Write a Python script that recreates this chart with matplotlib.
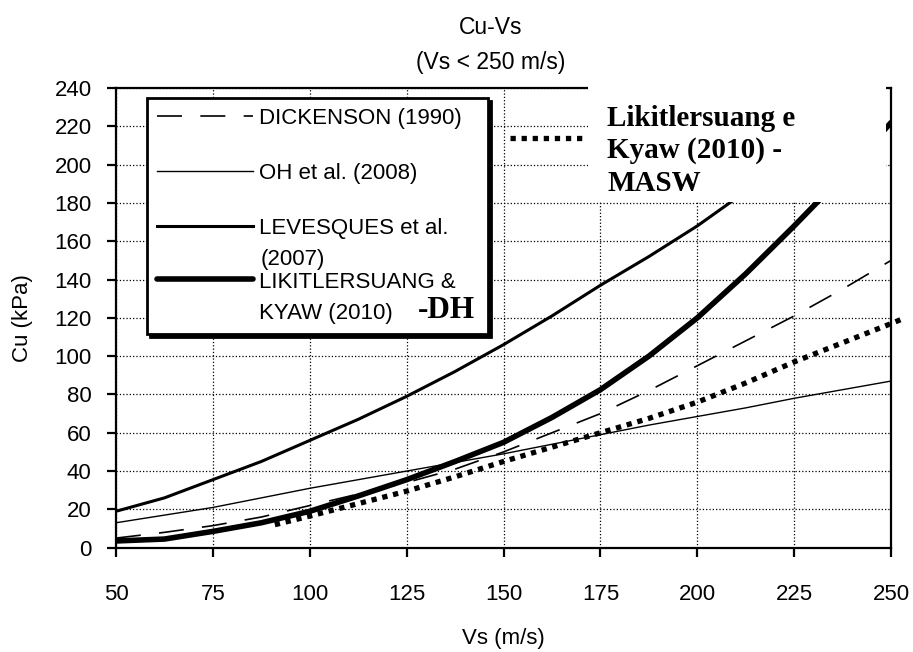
import matplotlib
matplotlib.use('Agg')
import matplotlib.pyplot as plt
from matplotlib.patches import Rectangle

# values
vs = [50, 62.5, 75, 87.5, 100, 112.5, 125, 137.5, 150, 162.5, 175, 187.5, 200, 212.5, 225, 237.5, 250]
dickenson = [5, 8, 11.5, 16, 22, 28, 34, 41, 50, 60, 70, 82, 95, 108, 121, 135, 150]
oh = [13, 17, 21, 26, 31, 35.5, 40, 44.5, 49, 54, 59, 64, 68.5, 73, 78, 82.5, 87]
levesques = [19, 26, 35.5, 45, 56, 67, 79, 92, 106, 121, 137, 152, 168, 186, 205, 224, 245]
likit_dh = [3.5, 4.5, 8.5, 13, 19, 27, 35.5, 45, 55, 68, 82.5, 100, 120, 143, 168, 194, 222]

masw_vs = [91, 100, 112.5, 125, 137.5, 150, 162.5, 175, 187.5, 200, 212.5, 225, 237.5, 250, 253]
masw = [12, 16.5, 23, 29.5, 37, 45, 52.5, 60, 67.5, 76, 86, 97, 107, 117, 119.5]

x_ticks = [50, 75, 100, 125, 150, 175, 200, 225, 250]
y_ticks = list(range(0, 241, 20))

plt.rcParams['font.family'] = ['Liberation Sans', 'DejaVu Sans']

fig = plt.figure(figsize=(9.13, 6.52), dpi=100)
ax = fig.add_axes([0.127, 0.16, 0.849, 0.705])

l1, = ax.plot(vs, dickenson, color='black', lw=1.2, dashes=(15, 11))
l2, = ax.plot(vs, oh, color='black', lw=1.0)
l3, = ax.plot(vs, levesques, color='black', lw=2.2)
l4, = ax.plot(vs, likit_dh, color='black', lw=4.0, solid_capstyle='round')
l5, = ax.plot(masw_vs, masw, color='black', lw=3.8, dashes=(1, 1.1),
              dash_capstyle='butt', clip_on=False, zorder=3)

ax.set_xlim(50, 250)
ax.set_ylim(0, 240)
ax.set_xticks(x_ticks)
ax.set_yticks(y_ticks)
ax.grid(True, color='black', linestyle=':', lw=0.9)
for s in ax.spines.values():
    s.set_linewidth(1.6)
ax.tick_params(labelsize=16, length=6.5, width=1.6, direction='out')
ax.tick_params(axis='x', pad=20)
ax.tick_params(axis='y', pad=11)

ax.set_xlabel('Vs (m/s)', fontsize=16)
ax.xaxis.set_label_coords(0.5, -0.175)
ax.set_ylabel('Cu (kPa)', fontsize=16)
ax.yaxis.set_label_coords(-0.107, 0.5)
ax.set_title('Cu-Vs\n(Vs < 250 m/s)', fontsize=16.5, linespacing=1.66, x=0.483, pad=14)

# main legend
leg = ax.legend([l1, l2, l3, l4],
                ['DICKENSON (1990)', 'OH et al. (2008)', 'LEVESQUES et al.',
                 'LIKITLERSUANG &\nKYAW (2010)'],
                loc='upper left', bbox_to_anchor=(0.04, 0.463, 0.44, 0.515),
                mode='expand', borderaxespad=0, fontsize=16,
                handlelength=4.3, handletextpad=0.3, borderpad=0.45,
                labelspacing=1.52, fancybox=False, edgecolor='black',
                framealpha=1, shadow={'color': 'black', 'alpha': 1})
leg.get_frame().set_linewidth(2.0)
for t in leg.get_texts():
    t.set_linespacing(1.61)
hl = leg.get_lines()[3]
hl.set_ydata([y + 14.2 for y in hl.get_ydata()])
ax.add_artist(leg)

ax.text(0.186, 0.628, '(2007)', transform=ax.transAxes, fontsize=16,
        va='center', ha='left', zorder=6)
ax.text(0.389, 0.515, '-DH', transform=ax.transAxes, fontsize=22.5,
        family='Liberation Serif', fontweight='bold', va='center', ha='left', zorder=6)

# white box behind the MASW label
ax.add_patch(Rectangle((0.609, 0.752), 0.384, 0.264, transform=ax.transAxes,
                       facecolor='white', edgecolor='none', zorder=4, clip_on=False))

leg2 = ax.legend([l5], ['Likitlersuang e\nKyaw (2010) -\nMASW'],
                 loc='upper left', bbox_to_anchor=(0.508, 0.964),
                 borderaxespad=0, borderpad=0, frameon=False,
                 handlelength=2.5, handletextpad=0.85,
                 prop={'family': 'Liberation Serif', 'weight': 'bold', 'size': 21})
for t in leg2.get_texts():
    t.set_linespacing(1.26)
hl2 = leg2.get_lines()[0]
hl2.set_ydata([y + 9 for y in hl2.get_ydata()])
leg2.set_zorder(6)

plt.savefig('out.png', dpi=100)
